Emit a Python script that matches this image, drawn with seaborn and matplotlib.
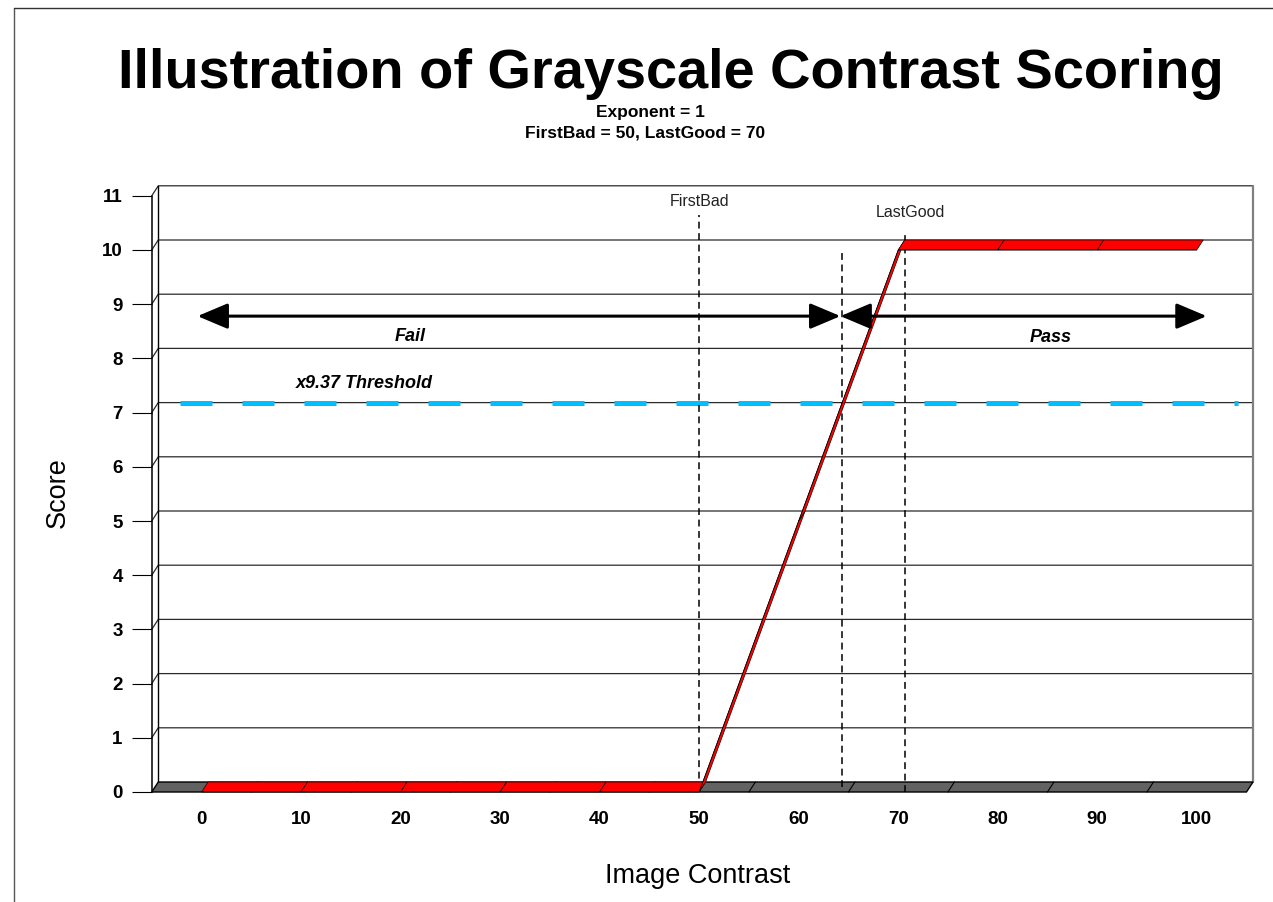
import numpy as np
import pandas as pd
import matplotlib
matplotlib.use("Agg")
import matplotlib.pyplot as plt
import seaborn as sns
from matplotlib.transforms import IdentityTransform, offset_copy
from matplotlib.patches import Polygon
from matplotlib.lines import Line2D

# ---------------- data ----------------
contrast = [0, 10, 20, 30, 40, 50, 60, 70, 80, 90, 100]
score = [0, 0, 0, 0, 0, 0, 5, 10, 10, 10, 10]
first_bad = 50
last_good = 70
threshold = 7.0
threshold_x = 64          # contrast where the score crosses the threshold
x_ticks = [0, 10, 20, 30, 40, 50, 60, 70, 80, 90, 100]
y_ticks = [0, 1, 2, 3, 4, 5, 6, 7, 8, 9, 10, 11]
title = "Illustration of Grayscale Contrast Scoring"
subtitle1 = "Exponent = 1"
subtitle2 = "FirstBad = 50, LastGood = 70"
threshold_label = "x9.37 Threshold"

df = pd.DataFrame({"contrast": contrast, "score": score})

# ---------------- style ----------------
sns.set_theme(style="white")
plt.rcParams["font.family"] = ["Liberation Sans", "DejaVu Sans"]
plt.rcParams["text.color"] = "black"
plt.rcParams["axes.labelcolor"] = "black"
plt.rcParams["xtick.color"] = "black"
plt.rcParams["ytick.color"] = "black"

W, H = 1273, 902
fig = plt.figure(figsize=(W / 100, H / 100), dpi=100)
fig.patch.set_facecolor("white")

XL = (-5, 105)
YL = (0, 11)
ax_left, ax_right = 151.75, 1246.5
ax_bottom, ax_top = 792, 195.8
ax = fig.add_axes([ax_left / W, (H - ax_bottom) / H,
                   (ax_right - ax_left) / W, (ax_bottom - ax_top) / H])
ax.set_xlim(*XL)
ax.set_ylim(*YL)
ax.set_facecolor("white")
for s in ax.spines.values():
    s.set_visible(False)

DX, DY = 6.5, 10   # depth offset (pixels) of the back wall

def F(x, y):
    return ax.transData.transform((x, y))

def B(x, y):
    return F(x, y) + np.array([DX, DY])

def poly(pts, **kw):
    ax.add_patch(Polygon(np.array(pts), closed=True,
                         transform=IdentityTransform(), clip_on=False, **kw))

def seg(pts, **kw):
    p = np.array(pts)
    ax.add_line(Line2D(p[:, 0], p[:, 1], transform=IdentityTransform(),
                       clip_on=False, **kw))

tr_back = offset_copy(ax.transData, fig=fig, x=DX, y=DY, units="dots")
tr_mid = offset_copy(ax.transData, fig=fig, x=DX / 2, y=DY / 2, units="dots")
tr_backx = offset_copy(ax.transData, fig=fig, x=DX, y=0, units="dots")

# back wall gridlines with left-wall connectors
for y in y_ticks[1:]:
    seg([F(XL[0], y), B(XL[0], y), B(XL[1], y)], color="#2a2a2a", lw=0.9, zorder=1)
# left wall
seg([F(XL[0], YL[0]), F(XL[0], YL[1])], color="black", lw=1.1, zorder=2)
seg([B(XL[0], YL[0]), B(XL[0], YL[1])], color="black", lw=1.0, zorder=2)
# right back edge
seg([B(XL[1], YL[0]), B(XL[1], YL[1])], color="#808080", lw=1.6, zorder=1)

# floor
poly([F(XL[0], 0), F(XL[1], 0), B(XL[1], 0), B(XL[0], 0)],
     facecolor="#626262", edgecolor="black", lw=1.0, zorder=2)
for xd in np.arange(5, 100, 10):
    seg([F(xd, 0), B(xd, 0)], color="black", lw=0.8, zorder=2)

# threshold (back wall)
ax.plot([-2.8, 103.5], [threshold, threshold], color="#00BFFF", lw=3.6,
        dashes=(6.4, 6.0), dash_capstyle="butt", solid_capstyle="butt",
        transform=tr_back, zorder=3)

# vertical dashed markers
ax.plot([first_bad, first_bad], [0.03, 10.65], color="black", lw=1.1,
        dashes=(4.5, 3), zorder=4)
ax.plot([threshold_x, threshold_x], [0.0, 9.9], color="black", lw=1.1,
        dashes=(4.5, 3), transform=tr_mid, zorder=4)
ax.plot([last_good, last_good], [0.0, 10.3], color="black", lw=1.1,
        dashes=(4.5, 3), transform=tr_backx, zorder=4)
ax.text(first_bad, 10.89, "FirstBad", ha="center", va="center", fontsize=11.5,
        color="#222222")
ax.text(71.2, 10.7, "LastGood", ha="center", va="center", fontsize=11.5,
        color="#222222")

# red score ribbon
for i in range(len(contrast) - 1):
    x0, y0, x1, y1 = contrast[i], score[i], contrast[i + 1], score[i + 1]
    poly([F(x0, y0), F(x1, y1), B(x1, y1), B(x0, y0)],
         facecolor="#FF0000", edgecolor="black", lw=0.45, zorder=5)
sns.lineplot(data=df, x="contrast", y="score", color="black", lw=0.45,
             ax=ax, zorder=6)

# arrows (two double-headed arrows meeting at the threshold crossing)
arrow_y = 8.78
aprops = dict(arrowstyle="<|-|>,head_length=1.87,head_width=0.79",
              mutation_scale=10, lw=2.2, color="black", shrinkA=0, shrinkB=0)
ax.annotate("", xy=(-0.4, arrow_y), xytext=(threshold_x + 0.2, arrow_y),
            arrowprops=aprops, zorder=7)
ax.annotate("", xy=(101.0, arrow_y), xytext=(threshold_x + 0.2, arrow_y),
            arrowprops=aprops, zorder=7)
ax.text(21, 8.41, "Fail", ha="center", va="center", fontsize=13,
        fontweight="bold", fontstyle="italic")
ax.text(85.3, 8.38, "Pass", ha="center", va="center", fontsize=13,
        fontweight="bold", fontstyle="italic")
ax.text(16.4, 7.53, threshold_label, ha="center", va="center", fontsize=13,
        fontweight="bold", fontstyle="italic")

# ticks
ax.set_xticks(x_ticks)
ax.set_xticklabels([str(v) for v in x_ticks])
ax.set_yticks(y_ticks)
ax.set_yticklabels([str(v) for v in y_ticks])
ax.tick_params(axis="y", which="major", left=True, length=14.4, width=0.8,
               pad=6.5, labelsize=13.5, colors="black", direction="out")
ax.tick_params(axis="x", which="major", bottom=False, length=0, pad=14,
               labelsize=13.5, colors="black")
for lbl in ax.get_xticklabels() + ax.get_yticklabels():
    lbl.set_fontweight("bold")
ax.set_xlabel("")
ax.set_ylabel("")
ax.grid(False)

# titles and axis labels
fig.text(671 / W, 1 - 88 / H, title, ha="center", va="baseline",
         fontsize=40.3, fontweight="bold", color="black")
fig.text(650 / W, 1 - 117 / H, subtitle1, ha="center", va="baseline",
         fontsize=12.5, fontweight="bold", color="black")
fig.text(645 / W, 1 - 138 / H, subtitle2, ha="center", va="baseline",
         fontsize=12.5, fontweight="bold", color="black")
fig.text(58 / W, 1 - 493 / H, "Score", ha="center", va="center",
         rotation=90, fontsize=19.5, color="black")
fig.text(698 / W, 1 - 883 / H, "Image Contrast", ha="center", va="baseline",
         fontsize=19.5, color="black")

# chart-area border
fig.add_artist(Line2D([14 / W, 14 / W], [0, 1 - 8 / H], transform=fig.transFigure,
                      color="#555555", lw=1.0))
fig.add_artist(Line2D([14 / W, 1], [1 - 8 / H, 1 - 8 / H], transform=fig.transFigure,
                      color="#333333", lw=1.0))

fig.savefig("out.png", dpi=100)
